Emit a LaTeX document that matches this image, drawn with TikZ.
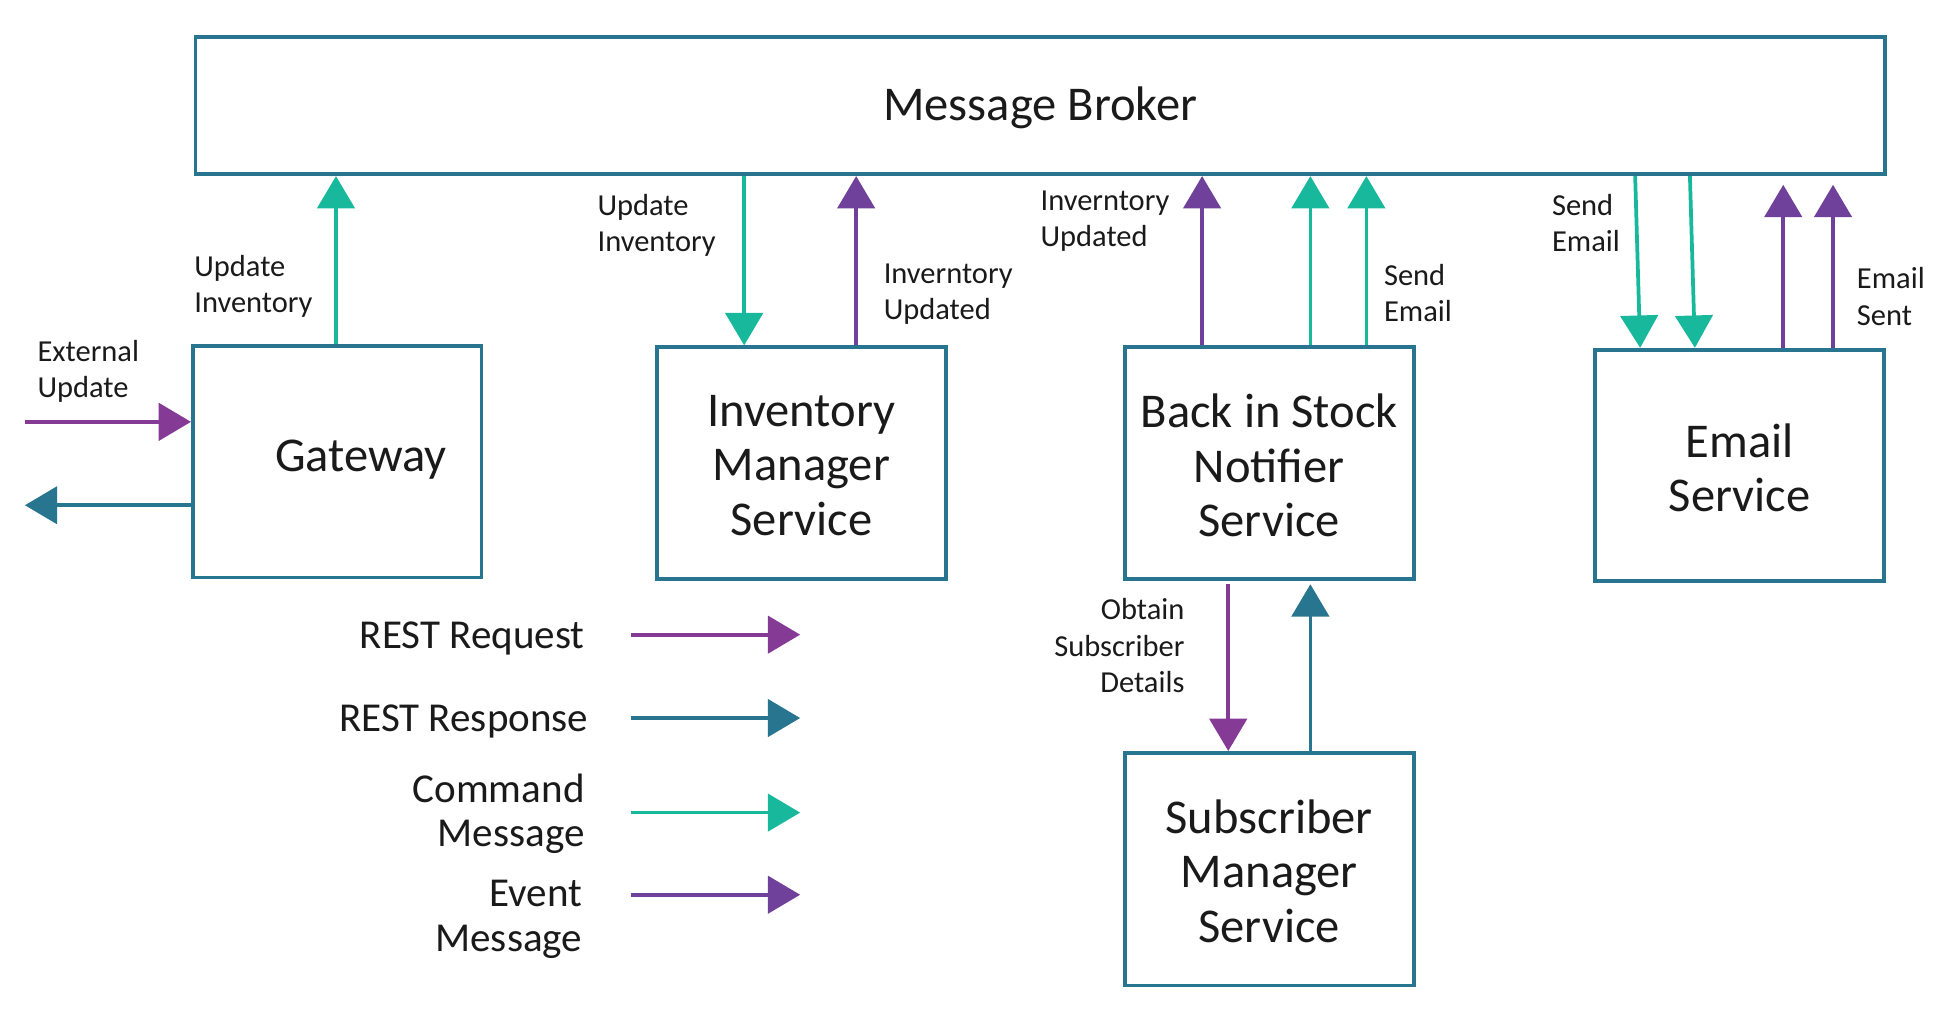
\documentclass[tikz,border=0pt]{standalone}
\usepackage{fontspec}
\setmainfont{Carlito}
\usetikzlibrary{arrows.meta}
\definecolor{tealb}{HTML}{27758F}
\definecolor{cmdg}{HTML}{17B89B}
\definecolor{reqp}{HTML}{853A96}
\definecolor{evp}{HTML}{6F419A}
\definecolor{txt}{HTML}{1A1A1A}
\begin{document}
\begin{tikzpicture}[x=1pt,y=-1pt,
  box/.style={draw=tealb,line width=3pt,fill=white,inner sep=0pt},
  bigtxt/.style={font=\fontsize{39}{44}\selectfont,text=txt,align=center,inner sep=0pt},
  smalltxt/.style={font=\fontsize{24.5}{29}\selectfont,text=txt,inner sep=0pt},
  legtxt/.style={font=\fontsize{33}{36}\selectfont,text=txt,inner sep=0pt,align=right,anchor=east},
  arr/.style={line width=3pt,-{Triangle[width=30pt,length=26pt]}},
  cmd/.style={arr,draw=cmdg,fill=cmdg},
  req/.style={arr,draw=reqp,fill=reqp},
  resp/.style={arr,draw=tealb,fill=tealb},
  ev/.style={arr,draw=evp,fill=evp}]
\useasboundingbox (0,0) rectangle (1567,826.9);
% boxes
\node[box,minimum width=1358pt,minimum height=110pt] (mb) at (836,85) {};
\node[bigtxt] (mbt) at (836,87) {Message Broker};
\node[box,minimum width=232pt,minimum height=186pt] (gw) at (271,371) {};
\node[bigtxt] (gwt) at (290,369) {Gateway};
\node[box,minimum width=232pt,minimum height=186pt] (inv) at (644,372) {};
\node[bigtxt] (invt) at (644,374) {Inventory\\Manager\\Service};
\node[box,minimum width=232pt,minimum height=186pt] (bis) at (1020,372) {};
\node[bigtxt] (bist) at (1020,374) {Back in Stock\\Notifier\\Service};
\node[box,minimum width=232pt,minimum height=186pt] (em) at (1398,374) {};
\node[bigtxt] (emt) at (1398,376) {Email\\Service};
\node[box,minimum width=232pt,minimum height=187pt] (sub) at (1020,698.5) {};
\node[bigtxt] (subt) at (1020,700) {Subscriber\\Manager\\Service};
% connectors
\draw[cmd] ([xshift=-1pt]gw.north) -- ([xshift=-566pt]mb.south);
\coordinate (extin) at (20,339);
\coordinate (extout) at (20,406);
\draw[req] (extin) -- ([yshift=32pt]gw.west);
\draw[resp] ([yshift=-35pt]gw.west) -- (extout);
\draw[cmd] ([xshift=-238pt]mb.south) -- ([xshift=-46pt]inv.north);
\draw[ev] ([xshift=44pt]inv.north) -- ([xshift=-148pt]mb.south);
\draw[ev] ([xshift=-54pt]bis.north) -- ([xshift=130pt]mb.south);
\draw[cmd] ([xshift=33pt]bis.north) -- ([xshift=217pt]mb.south);
\draw[cmd] ([xshift=78pt]bis.north) -- ([xshift=262pt]mb.south);
\draw[cmd] ([xshift=478pt]mb.south) -- ([xshift=-80pt]em.north);
\draw[cmd] ([xshift=522pt]mb.south) -- ([xshift=-36pt]em.north);
\draw[ev] ([xshift=35pt]em.north) -- ([xshift=597pt,yshift=-7pt]mb.south);
\draw[ev] ([xshift=75pt]em.north) -- ([xshift=637pt,yshift=-7pt]mb.south);
\draw[req] ([xshift=-33pt,yshift=-3pt]bis.south) -- ([xshift=-33pt]sub.north);
\draw[resp] ([xshift=33pt]sub.north) -- ([xshift=33pt,yshift=-3pt]bis.south);
% connector labels
\node[smalltxt,align=left,anchor=north west] (l1) at (156,205) {Update\\Inventory};
\node[smalltxt,align=left,anchor=north west] (l2) at (30,273) {External\\Update};
\node[smalltxt,align=left,anchor=north west] (l3) at (480,156) {Update\\Inventory};
\node[smalltxt,align=left,anchor=north west] (l4) at (710,212) {Inverntory\\Updated};
\node[smalltxt,align=left,anchor=north west] (l5) at (836,153) {Inverntory\\Updated};
\node[smalltxt,align=left,anchor=north west] (l6) at (1112,212) {Send\\Email};
\node[smalltxt,align=left,anchor=north west] (l7) at (1247,156) {Send\\Email};
\node[smalltxt,align=left,anchor=north west] (l8) at (1492,215) {Email\\Sent};
\node[smalltxt,align=right,anchor=north east] (l9) at (952,481) {Obtain\\Subscriber\\Details};
% legend
\node[legtxt] (lg1) at (470,513) {REST Request};
\node[legtxt] (lg2) at (473,580) {REST Response};
\node[legtxt] (lg3) at (470,654) {Command\\Message};
\node[legtxt] (lg4) at (468,739) {Event\\Message};
\coordinate (a1) at (507,510); \coordinate (b1) at (643,510);
\coordinate (a2) at (507,577); \coordinate (b2) at (643,577);
\coordinate (a3) at (507,653); \coordinate (b3) at (643,653);
\coordinate (a4) at (507,719); \coordinate (b4) at (643,719);
\draw[req] (a1) -- (b1);
\draw[resp] (a2) -- (b2);
\draw[cmd] (a3) -- (b3);
\draw[ev] (a4) -- (b4);
\end{tikzpicture}
\end{document}
